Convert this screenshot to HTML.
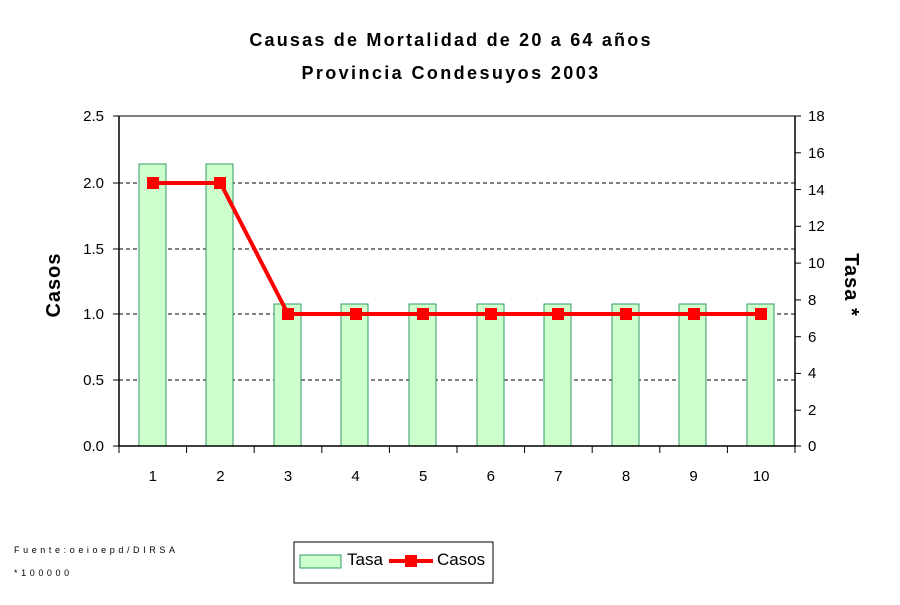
<!DOCTYPE html>
<html><head><style>body{margin:0;background:#fff}</style></head><body>
<svg width="900" height="600" xmlns="http://www.w3.org/2000/svg" font-family="Liberation Sans, sans-serif">
<rect width="900" height="600" fill="#fff"/>
<text x="451" y="46" text-anchor="middle" font-size="18" font-weight="bold" letter-spacing="2.2">Causas de Mortalidad de 20 a 64 años</text>
<text x="451" y="79" text-anchor="middle" font-size="18" font-weight="bold" letter-spacing="2.4">Provincia Condesuyos 2003</text>
<line x1="119" y1="116" x2="795" y2="116" stroke="#808080" stroke-width="2"/>
<g stroke="#000" stroke-dasharray="4,3" stroke-width="1">
<line x1="119" y1="183" x2="795" y2="183"/><line x1="119" y1="249" x2="795" y2="249"/>
<line x1="119" y1="314" x2="795" y2="314"/><line x1="119" y1="380" x2="795" y2="380"/>
</g>
<g fill="#ccffcc" stroke="#339966" stroke-width="1">
<rect x="139" y="164" width="27" height="282"/><rect x="206" y="164" width="27" height="282"/>
<rect x="274" y="304" width="27" height="142"/><rect x="341" y="304" width="27" height="142"/>
<rect x="409" y="304" width="27" height="142"/><rect x="477" y="304" width="27" height="142"/>
<rect x="544" y="304" width="27" height="142"/><rect x="612" y="304" width="27" height="142"/>
<rect x="679" y="304" width="27" height="142"/><rect x="747" y="304" width="27" height="142"/>
</g>
<g stroke="#000" stroke-width="1.5">
<line x1="119" y1="116" x2="119" y2="447"/><line x1="795" y1="116" x2="795" y2="447"/>
<line x1="119" y1="446" x2="795" y2="446"/>
</g>
<g stroke="#000" stroke-width="1">
<line x1="113" y1="116" x2="119" y2="116"/><line x1="113" y1="183" x2="119" y2="183"/><line x1="113" y1="249" x2="119" y2="249"/><line x1="113" y1="314" x2="119" y2="314"/><line x1="113" y1="380" x2="119" y2="380"/><line x1="113" y1="446" x2="119" y2="446"/>
<line x1="795" y1="116" x2="801" y2="116"/><line x1="795" y1="152.8" x2="801" y2="152.8"/><line x1="795" y1="189.6" x2="801" y2="189.6"/><line x1="795" y1="226.3" x2="801" y2="226.3"/><line x1="795" y1="263.1" x2="801" y2="263.1"/><line x1="795" y1="299.9" x2="801" y2="299.9"/><line x1="795" y1="336.7" x2="801" y2="336.7"/><line x1="795" y1="373.4" x2="801" y2="373.4"/><line x1="795" y1="410.2" x2="801" y2="410.2"/><line x1="795" y1="446" x2="801" y2="446"/>
<line x1="119" y1="446" x2="119" y2="453"/><line x1="186.6" y1="446" x2="186.6" y2="453"/><line x1="254.2" y1="446" x2="254.2" y2="453"/><line x1="321.8" y1="446" x2="321.8" y2="453"/><line x1="389.4" y1="446" x2="389.4" y2="453"/><line x1="457" y1="446" x2="457" y2="453"/><line x1="524.6" y1="446" x2="524.6" y2="453"/><line x1="592.2" y1="446" x2="592.2" y2="453"/><line x1="659.8" y1="446" x2="659.8" y2="453"/><line x1="727.4" y1="446" x2="727.4" y2="453"/><line x1="795" y1="446" x2="795" y2="453"/>
</g>
<g font-size="15" text-anchor="end">
<text x="104" y="121">2.5</text><text x="104" y="188">2.0</text><text x="104" y="254">1.5</text><text x="104" y="319">1.0</text><text x="104" y="385">0.5</text><text x="104" y="451">0.0</text>
</g>
<g font-size="15" text-anchor="start">
<text x="808" y="121">18</text><text x="808" y="158">16</text><text x="808" y="195">14</text><text x="808" y="231">12</text><text x="808" y="268">10</text><text x="808" y="305">8</text><text x="808" y="342">6</text><text x="808" y="378">4</text><text x="808" y="415">2</text><text x="808" y="451">0</text>
</g>
<g font-size="15" text-anchor="middle">
<text x="152.8" y="481">1</text><text x="220.4" y="481">2</text><text x="288" y="481">3</text><text x="355.6" y="481">4</text><text x="423.2" y="481">5</text><text x="490.8" y="481">6</text><text x="558.4" y="481">7</text><text x="626" y="481">8</text><text x="693.6" y="481">9</text><text x="761.2" y="481">10</text>
</g>
<text transform="translate(60,285) rotate(-90)" text-anchor="middle" font-size="20" font-weight="bold" letter-spacing="1">Casos</text>
<text transform="translate(845,285) rotate(90)" text-anchor="middle" font-size="20" font-weight="bold" letter-spacing="1">Tasa *</text>
<polyline points="152.8,183 220.4,183 288,314 355.6,314 423.2,314 490.8,314 558.4,314 626,314 693.6,314 761.2,314" fill="none" stroke="#ff0000" stroke-width="4"/>
<g fill="#ff0000">
<rect x="147" y="177" width="12" height="12"/><rect x="214" y="177" width="12" height="12"/>
<rect x="282" y="308" width="12" height="12"/><rect x="350" y="308" width="12" height="12"/><rect x="417" y="308" width="12" height="12"/><rect x="485" y="308" width="12" height="12"/><rect x="552" y="308" width="12" height="12"/><rect x="620" y="308" width="12" height="12"/><rect x="688" y="308" width="12" height="12"/><rect x="755" y="308" width="12" height="12"/>
</g>
<text x="14" y="553" font-size="9" letter-spacing="3.6">Fuente:oeioepd/DIRSA</text>
<text x="14" y="576" font-size="9" letter-spacing="3.6">*100000</text>
<rect x="294" y="542" width="199" height="41" fill="#fff" stroke="#000" stroke-width="1"/>
<rect x="300" y="555" width="41" height="13" fill="#ccffcc" stroke="#339966"/>
<text x="347" y="565" font-size="17">Tasa</text>
<line x1="389" y1="561" x2="433" y2="561" stroke="#ff0000" stroke-width="4"/>
<rect x="405" y="555" width="12" height="12" fill="#ff0000"/>
<text x="437" y="565" font-size="17">Casos</text>
</svg>
</body></html>
